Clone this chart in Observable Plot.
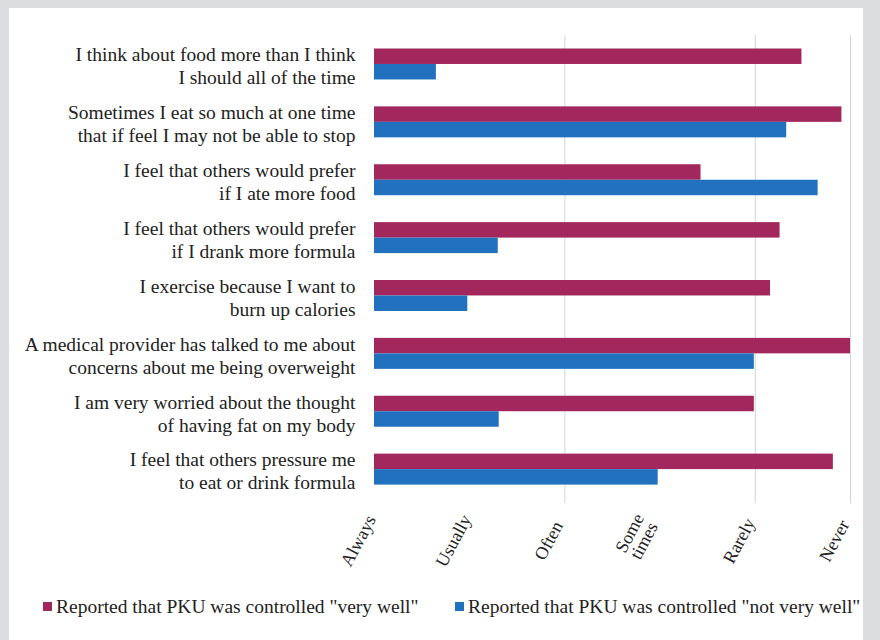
<!DOCTYPE html>
<html>
<head>
<meta charset="utf-8">
<script src="https://cdn.jsdelivr.net/npm/d3@7"></script>
<script src="https://cdn.jsdelivr.net/npm/@observablehq/plot@0.6"></script>
<style>
  html, body { margin: 0; padding: 0; }
  body { width: 880px; height: 640px; background: #dcdddf; position: relative; overflow: hidden; font-family: "Liberation Serif", "Times New Roman", serif; }
  #panel { position: absolute; left: 9px; top: 8px; width: 854px; height: 632px; background: #fff; }
  #chart { position: absolute; left: 0; top: 0; }
  .leg { position: absolute; top: 587px; height: 24px; line-height: 24px; font-size: 19.5px; color: #222; white-space: nowrap; }
  .sw { display: inline-block; width: 9px; height: 9px; margin-right: 4px; vertical-align: 2px; }
</style>
</head>
<body>
<div id="panel">
  <div id="chart"></div>
  <div class="leg" id="leg1"></div>
  <div class="leg" id="leg2"></div>
</div>
<script>
const categories = [
  "I think about food more than I think\nI should all of the time",
  "Sometimes I eat so much at one time\nthat if feel I may not be able to stop",
  "I feel that others would prefer\nif I ate more food",
  "I feel that others would prefer\nif I drank more formula",
  "I exercise because I want to\nburn up calories",
  "A medical provider has talked to me about\nconcerns about me being overweight",
  "I am very worried about the thought\nof having fat on my body",
  "I feel that others pressure me\nto eat or drink formula"
];
const seriesNames = ['Reported that PKU was controlled "very well"', 'Reported that PKU was controlled "not very well"'];
const veryWell    = [4.49, 4.91, 3.43, 4.26, 4.16, 5.00, 3.99, 4.82];
const notVeryWell = [0.65, 4.33, 4.66, 1.30, 0.98, 3.99, 1.31, 2.98];
const xTickValues = [0, 1, 2, 3, 4, 5];
const xTickLabels = ["Always", "Usually", "Often", "Some\ntimes", "Rarely", "Never"];
const gridValues = [2, 4, 5];

const red = "#a2275c";
const blue = "#2271be";

const dataVW = categories.map((c, i) => ({category: c, value: veryWell[i]}));
const dataNVW = categories.map((c, i) => ({category: c, value: notVeryWell[i]}));
const ticks = xTickValues.map((v, i) => ({v, label: xTickLabels[i]}));

const chart = Plot.plot({
  width: 854,
  height: 580,
  marginLeft: 365,
  marginRight: 13,
  marginTop: 27,
  marginBottom: 90,
  style: {fontFamily: "Liberation Serif, Times New Roman, serif", fontSize: "19px", background: "transparent", color: "#222", overflow: "visible"},
  x: {domain: [0, 5], axis: null},
  y: {domain: categories, axis: null, padding: 0, round: false},
  marks: [
    Plot.ruleX(gridValues, {x: d => d, stroke: "#d4d4d4", strokeWidth: 1, insetTop: 0, insetBottom: -5}),
    Plot.barX(dataVW, {x: "value", y: "category", fill: red, insetTop: 13.5, insetBottom: 28.9}),
    Plot.barX(dataNVW, {x: "value", y: "category", fill: blue, insetTop: 29.0, insetBottom: 13.4}),
    Plot.text(categories, {y: d => d, frameAnchor: "left", textAnchor: "end", dx: -19, dy: 1, lineHeight: 1.18, fontSize: 19.5, fill: "#222"}),
    Plot.text(ticks, {x: "v", text: "label", frameAnchor: "bottom", dy: 45, dx: -11, rotate: -62, textAnchor: "middle", lineHeight: 0.9, fontSize: 18, fill: "#222"})
  ]
});
document.getElementById("chart").appendChild(chart);

const leg1 = document.getElementById("leg1");
leg1.style.left = "34px";
leg1.innerHTML = `<span class="sw" style="background:${red}"></span>`;
leg1.appendChild(document.createTextNode(seriesNames[0]));
const leg2 = document.getElementById("leg2");
leg2.style.left = "446px";
leg2.innerHTML = `<span class="sw" style="background:${blue}"></span>`;
leg2.appendChild(document.createTextNode(seriesNames[1]));
</script>
</body>
</html>
